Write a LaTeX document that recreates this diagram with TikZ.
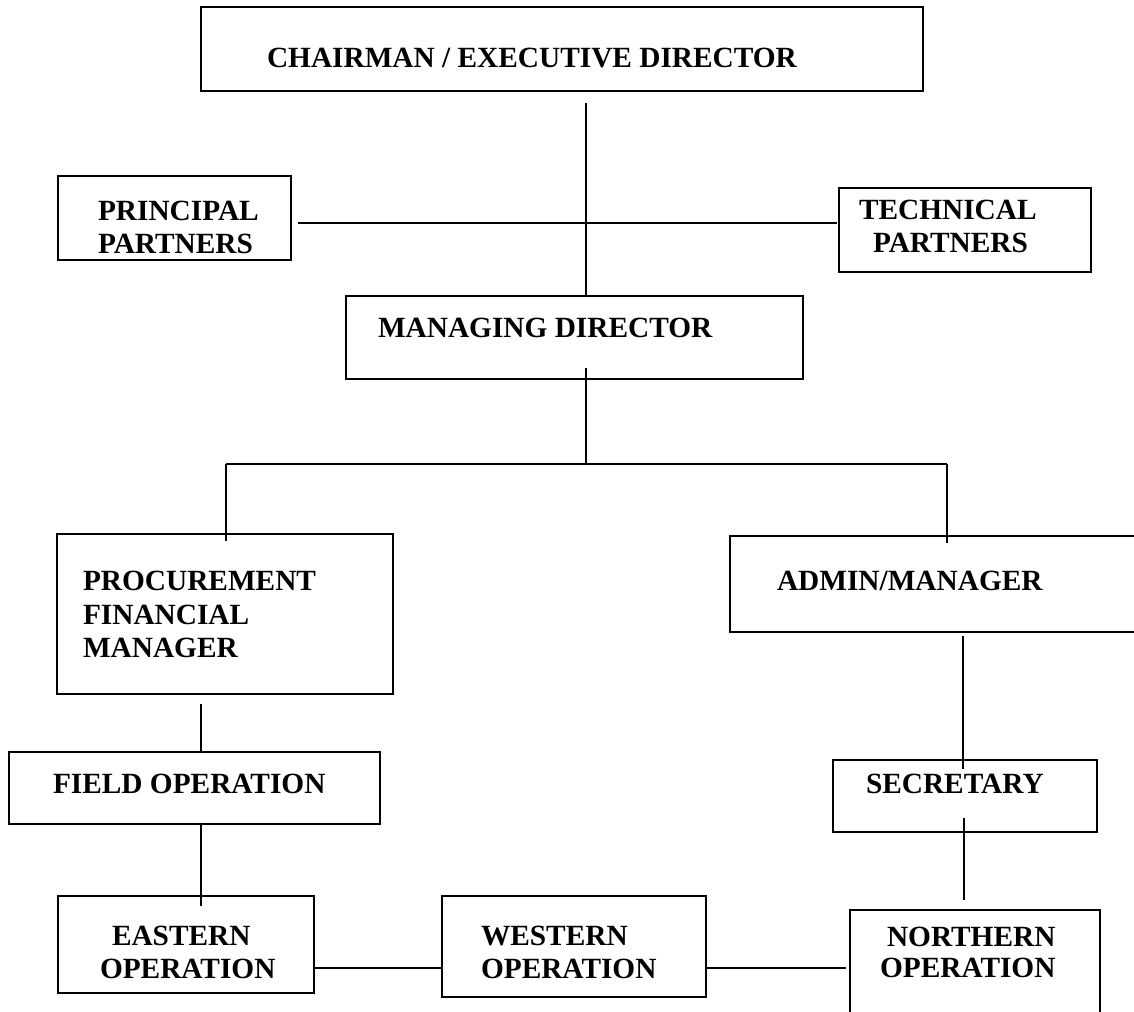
\documentclass[tikz,border=0pt]{standalone}
\usepackage{fontspec}
\setmainfont{Liberation Serif}
\begin{document}
\begin{tikzpicture}[x=0.75pt,y=-0.75pt,
  box/.style={draw, line width=1.1pt, inner sep=0pt, outer sep=0pt},
  lbl/.style={anchor=base west, inner sep=0pt, outer sep=0pt,
    font=\fontsize{22pt}{25pt}\selectfont\bfseries},
  conn/.style={line width=1.1pt}]
\useasboundingbox (0,0) rectangle (1134,1011);
\clip (0,0) rectangle (1134,1011);
\fill[white] (0,0) rectangle (1134,1011);

% boxes
\node[box, minimum width=722*0.75pt, minimum height=84*0.75pt] (chair) at (562,49) {};
\node[box, minimum width=233*0.75pt, minimum height=84*0.75pt] (princ) at (174.5,218) {};
\node[box, minimum width=252*0.75pt, minimum height=84*0.75pt] (tech) at (965,230) {};
\node[box, minimum width=457*0.75pt, minimum height=83*0.75pt] (md) at (574.5,337.5) {};
\node[box, minimum width=336*0.75pt, minimum height=160*0.75pt] (proc) at (225,614) {};
\node[box, minimum width=415*0.75pt, minimum height=96*0.75pt] (admin) at (937.5,584) {};
\node[box, minimum width=371*0.75pt, minimum height=72*0.75pt] (field) at (194.5,788) {};
\node[box, minimum width=264*0.75pt, minimum height=72*0.75pt] (sec) at (965,796) {};
\node[box, minimum width=256*0.75pt, minimum height=97*0.75pt] (east) at (186,944.5) {};
\node[box, minimum width=264*0.75pt, minimum height=101*0.75pt] (west) at (574,946.5) {};
\node[box, minimum width=250*0.75pt, minimum height=120*0.75pt] (north) at (975,970) {};

% texts
\node[lbl] (tchair) at (267,67) {CHAIRMAN / EXECUTIVE DIRECTOR};
\node[lbl] (tprinc1) at (98,220) {PRINCIPAL};
\node[lbl] (tprinc2) at (98,253) {PARTNERS};
\node[lbl] (ttech1) at (859,219) {TECHNICAL};
\node[lbl] (ttech2) at (873,252) {PARTNERS};
\node[lbl] (tmd) at (378,337) {MANAGING DIRECTOR};
\node[lbl] (tproc1) at (83,590) {PROCUREMENT};
\node[lbl] (tproc2) at (83,624) {FINANCIAL};
\node[lbl] (tproc3) at (83,657) {MANAGER};
\node[lbl] (tadmin) at (777,590) {ADMIN/MANAGER};
\node[lbl] (tfield) at (53,793) {FIELD OPERATION};
\node[lbl] (tsec) at (866,793) {SECRETARY};
\node[lbl] (teast1) at (112,945) {EASTERN};
\node[lbl] (teast2) at (100,978) {OPERATION};
\node[lbl] (twest1) at (481,945) {WESTERN};
\node[lbl] (twest2) at (481,978) {OPERATION};
\node[lbl] (tnorth1) at (887,946) {NORTHERN};
\node[lbl] (tnorth2) at (880,977) {OPERATION};

% connector ends
\coordinate (c1) at (586,103);
\coordinate (pl) at (298,223);
\coordinate (pr) at (837,223);
\coordinate (c2) at (586,368);
\coordinate (j) at (586,464);
\coordinate (jl) at (226,464);
\coordinate (jr) at (947,464);
\coordinate (jlend) at (226,541);
\coordinate (jrend) at (947,543);
\coordinate (p1) at (201,704);
\coordinate (f1) at (201,906);
\coordinate (a1) at (963,636);
\coordinate (a2) at (963,769);
\coordinate (s1) at (964,818);
\coordinate (s2) at (964,900);
\coordinate (w1) at (707,968);
\coordinate (w2) at (846,968);

% connectors
\draw[conn] (c1) -- (c1 |- md.north);
\draw[conn] (pl) -- (pr);
\draw[conn] (c2) -- (j);
\draw[conn] (jl) -- (jr);
\draw[conn] (jl) -- (jlend);
\draw[conn] (jr) -- (jrend);
\draw[conn] (p1) -- (p1 |- field.north);
\draw[conn] (p1 |- field.south) -- (f1);
\draw[conn] (a1) -- (a2);
\draw[conn] (s1) -- (s2);
\draw[conn] (east.east |- w1) -- (west.west |- w1);
\draw[conn] (w1) -- (w2);
\end{tikzpicture}
\end{document}
